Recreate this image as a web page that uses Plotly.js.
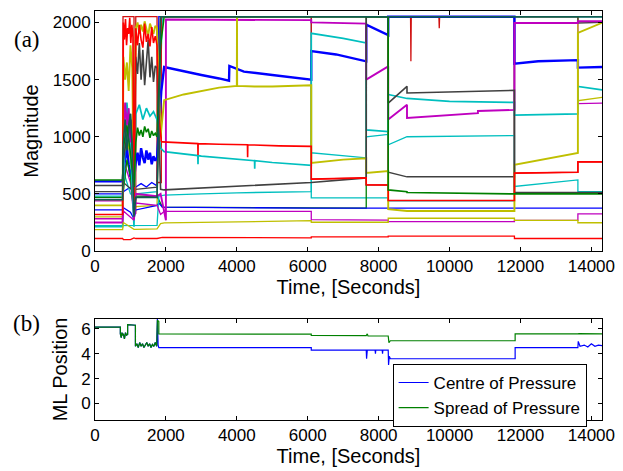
<!DOCTYPE html>
<html><head><meta charset="utf-8">
<script src="https://cdn.plot.ly/plotly-3.0.1.min.js"></script>
<style>html,body{margin:0;padding:0;background:#fff}#chart{width:623px;height:471px}</style>
</head><body><div id="chart"></div>
<script>
// ---- Panel (a): sensor magnitudes, [time, value] breakpoints ----
const tB1=[0,780,800,850,900,950,1000,1050,1100,1150,1200,1250,1300,1350,1400,1450,1500,1550,1600,1650,1700,1750,1800,1870,1950,2500,3000,3500,3780,3790,4200,5000,5500,6100,6100,6800,7650,7650,8270,8270,11830,11830,12500,13620,13620,14300];
const vB1=[610,610,700,820,900,760,650,720,610,780,860,750,900,820,770,880,800,860,760,830,790,820,1100,1400,1610,1570,1540,1510,1490,1620,1570,1540,1520,1500,1750,1720,1660,1980,1890,2050,2050,1640,1660,1670,1605,1610];
const tB2=[0,780,800,1000,1100,1150,1750,1800,1900,6100,14300];
const vB2=[360,360,380,340,280,360,400,420,385,375,375];
const tB3=[0,780,800,1000,1100,1150,1300,1450,1600,1750,1800,14300];
const vB3=[500,500,520,560,500,560,590,560,600,570,2050,2050];

const tG1=[0,780,800,900,1000,1100,1150,1200,1250,1300,1350,1400,1450,1500,1550,1600,1650,1700,1750,1850,1950,8270,8270,8800,8800,11830,11830,14300];
const vG1=[622,622,900,1100,850,560,950,1080,1010,1060,1000,1090,1040,1070,990,1050,1010,1030,1000,1800,2050,2050,535,520,512,500,500,500];
const tG2=[0,780,800,900,1000,1100,1150,1750,1900,6100,7650,7650,14300];
const vG2=[470,470,520,800,650,300,480,480,385,375,375,2050,2050];
const tG3=[0,780,800,850,900,950,1000,1050,1100,1150,1750,1850,14300];
const vG3=[450,450,950,1150,880,1050,1200,900,300,470,470,2050,2050];

const tR1=[0,780,790,1100,1100,1150,1150,1750,1750,1870,1870,6100,6100,7650,7650,8270,8270,8900,8910,8920,9700,9710,9720,11830,11830,13620,13620,14300];
const vR1=[450,450,2050,2050,320,330,2050,2050,600,600,2050,2050,630,640,578,578,2050,2050,1660,2050,2050,1950,2050,2050,682,690,780,780];
const tR2=[0,780,800,1000,1100,1150,1750,1900,6100,6100,8270,8270,11830,11830,14300];
const vR2=[110,110,100,100,115,110,110,120,116,125,125,130,130,110,110];
const tR3=[0,780,800,830,860,890,920,950,980,1010,1040,1070,1100,1150,1200,1250,1300,1350,1400,1450,1500,1550,1600,1650,1700,1750,1800,1870,1900,2600,2900,2905,2910,3500,4300,4305,4310,5200,6100,6100,7650,7650,8270,8270,11830,11830,13620,13620,14300];
const vR3=[320,320,2000,1850,2030,1800,1950,1900,2040,1820,1980,1870,320,1950,1800,1980,1850,1780,1990,1830,1900,1790,1960,1820,1880,1800,1200,960,955,945,940,840,940,935,930,820,930,920,916,630,640,580,578,443,443,682,690,780,780];

const tC1=[0,780,800,900,1000,1100,1150,1250,1350,1450,1550,1650,1750,1850,1950,2900,2905,2910,3000,4000,4500,4505,4510,5000,6100,6100,7000,7650,7650,8270,8270,8800,10000,11830,11830,13620,13620,14300];
const vC1=[214,214,600,1300,900,214,1200,1280,1150,1250,1180,1220,1150,900,870,835,760,835,830,800,790,720,790,775,750,1905,1860,1820,1060,1045,1370,1335,1310,1300,1190,1200,1440,1410];
const tC2=[0,780,1100,1150,1750,1800,1950,3000,4000,6100,6100,7650,7650,8270,8270,8800,11830,11830,13620,13620,14300];
const vC2=[223,223,223,223,225,480,490,500,510,520,860,815,1000,1020,930,1000,1010,565,622,520,520];
const tC3=[0,780,800,1000,1100,1150,1750,1900,6100,6100,8270,8270,11830,11830,14300];
const vC3=[480,480,700,500,480,500,520,2050,2050,465,465,440,440,2050,2050];

const tM1=[0,780,800,850,900,950,1000,1050,1100,1150,1750,1850,2000,2000,6100,6100,7650,7650,8270,8270,8800,8800,10800,10800,11830,11830,13620,13620,14300];
const vM1=[250,250,1000,1300,1100,1250,950,1150,280,500,480,500,270,2025,2020,2000,1990,1500,1616,1150,1280,1165,1207,1225,1235,1995,1995,2010,2010];
const tM2=[0,780,800,1100,1150,1750,1850,1950,6100,6100,8270,8270,11830,11830,13620,13620,14300];
const vM2=[283,283,350,270,420,400,320,347,347,275,270,258,258,269,269,325,325];
const tM3=[0,780,800,1000,1100,1150,1750,1850,13620,13620,14300];
const vM3=[440,440,800,600,290,470,480,2050,2050,1290,1295];

const tY1=[0,780,800,850,900,950,1000,1050,1100,1150,1200,1250,1300,1350,1400,1450,1500,1550,1600,1650,1700,1750,1850,1950,2500,3000,3500,4000,4005,4010,4500,5000,6100,6100,7000,7650,7650,8270,8270,8800,11830,11830,13620,13620,14300];
const vY1=[400,400,1700,1500,1650,1400,1800,1600,400,1950,2000,1900,1980,1920,2010,1950,1880,1990,1940,1900,1970,1950,1000,1320,1370,1400,1430,1445,2050,1445,1440,1440,1450,770,800,812,684,700,366,351,351,754,859,1909,1997];
const tY2=[0,780,800,1100,1150,1750,1850,1950,6100,6100,8270,8270,11830,11830,13620,13620,14300];
const vY2=[188,188,250,190,190,195,240,246,266,252,252,287,287,269,269,248,248];
const tY3=[0,780,800,1000,1100,1150,1750,1850,13620,13620,14300];
const vY3=[300,300,1200,800,300,390,400,2050,2050,1315,1345];

const tK1=[0,780,800,1000,1100,1150,1200,1250,1300,1350,1400,1450,1500,1550,1600,1650,1700,1750,1850,1950,4000,6100,6100,7650,7650,8270,8270,8800,8800,11830,11830,14300];
const vK1=[573,573,800,1200,560,1700,1550,1820,1500,1760,1450,1650,1850,1520,1700,1480,1620,1600,540,535,565,594,600,640,2050,2050,1295,1441,1383,1406,512,512];
const tK2=[0,780,800,1100,1150,1750,1850,8270,8270,8800,11830,11830,13620,13620,14300];
const vK2=[520,520,600,520,540,560,2050,2050,690,650,650,2050,2050,1995,2000];

// ---- Panel (b): ML position ----
const tCOP=[0,715,715,740,760,780,800,830,860,890,920,920,1140,1140,1180,1220,1260,1300,1340,1380,1420,1460,1500,1540,1580,1620,1660,1700,1740,1760,1780,1800,6100,6100,7650,7660,7680,7900,7910,7920,8100,8110,8120,8270,8280,8300,8330,11850,11850,13620,13630,13680,13800,13900,14000,14100,14200,14300];
const vCOP=[6.15,6.15,5.6,5.3,5.7,5.5,5.6,5.2,5.7,5.5,5.55,6.35,6.3,4.6,4.8,4.5,4.9,4.6,4.8,4.5,4.7,4.9,4.6,4.8,4.5,4.75,4.6,4.9,4.6,6.8,4.7,4.5,4.5,4.3,4.3,3.6,4.3,4.3,4.0,4.3,4.3,4.0,4.3,4.3,3.1,3.8,3.6,3.6,4.5,4.5,5.0,4.6,4.7,4.55,4.8,4.6,4.7,4.65];
const tSOP=[0,715,715,740,760,780,800,830,860,890,920,920,1140,1140,1180,1220,1260,1300,1340,1380,1420,1460,1500,1540,1580,1620,1660,1700,1740,1760,1800,1800,6100,6100,7650,7680,7700,8270,8290,8330,11850,11850,13620,13650,14300];
const vSOP=[6.15,6.15,5.6,5.3,5.7,5.5,5.6,5.2,5.7,5.5,5.55,6.35,6.3,4.6,4.8,4.5,4.9,4.6,4.8,4.5,4.7,4.9,4.6,4.8,4.5,4.75,4.6,4.9,4.6,6.7,6.6,5.6,5.58,5.48,5.46,5.6,5.43,5.43,4.9,5.05,5.05,5.6,5.6,5.62,5.6];

const legendNames=['Centre of Pressure','Spread of Pressure'];
const xTicks=[0,2000,4000,6000,8000,10000,12000,14000];
const xTickText=['0','2000','4000','6000','8000','10000','12000','14000'];

const BLUE='#0000FF',GREEN='#008000',RED='#FF0000',CYAN='#00BFBF',MAG='#BF00BF',OLIVE='#BFBF00',GRAY='#404040',TEAL='#0F5C50';
function ln(t,v,c,w){return {x:t,y:v,type:'scatter',mode:'lines',line:{color:c,width:w||1.3},showlegend:false,xaxis:'x',yaxis:'y',hoverinfo:'skip'};}
const traces=[
 ln(tB3,vB3,BLUE),ln(tC3,vC3,CYAN),ln(tM3,vM3,MAG),ln(tY3,vY3,OLIVE),ln(tK2,vK2,GRAY),ln(tR1,vR1,'#D01010'),
 ln(tB1,vB1,BLUE,2.4),ln(tG2,vG2,GREEN),ln(tB2,vB2,BLUE),
 ln(tC1,vC1,CYAN,1.7),ln(tC2,vC2,CYAN),ln(tM1,vM1,MAG,1.9),ln(tM2,vM2,MAG),ln(tY1,vY1,OLIVE,1.9),ln(tY2,vY2,OLIVE),
 ln(tK1,vK1,GRAY,1.6),ln(tR3,vR3,RED,1.6),ln(tR2,vR2,RED),ln(tG1,vG1,GREEN,1.6),ln(tG3,vG3,TEAL,1.6),
 {x:tCOP,y:vCOP,type:'scatter',mode:'lines',name:legendNames[0],line:{color:BLUE,width:1.2},xaxis:'x2',yaxis:'y2'},
 {x:tSOP,y:vSOP,type:'scatter',mode:'lines',name:legendNames[1],line:{color:GREEN,width:1.2},xaxis:'x2',yaxis:'y2'}
];

const FAM='Liberation Sans, Arial, sans-serif';
const TF={family:FAM,size:17,color:'#000'};
const AF={family:FAM,size:20,color:'#000'};
function ax(o){return Object.assign({showline:true,linecolor:'#000',linewidth:1,mirror:'ticks',ticks:'inside',ticklen:4,tickcolor:'#000',showgrid:false,zeroline:false,tickfont:TF,automargin:false},o);}
const layout={
 width:623,height:471,paper_bgcolor:'#fff',plot_bgcolor:'#fff',
 margin:{l:95,r:21,t:11,b:51},
 xaxis:ax({domain:[0,1],range:[0,14300],tickvals:xTicks,ticktext:xTickText,anchor:'y',title:{text:'Time, [Seconds]',font:AF,standoff:4}}),
 yaxis:ax({domain:[0.413,1],range:[0,2100],tickvals:[0,500,1000,1500,2000],anchor:'x',title:{text:'Magnitude',font:AF,standoff:8}}),
 xaxis2:ax({domain:[0,1],range:[0,14300],tickvals:xTicks,ticktext:xTickText,anchor:'y2',title:{text:'Time, [Seconds]',font:AF,standoff:4}}),
 yaxis2:ax({domain:[0,0.247],range:[-1.33,6.8],tickvals:[0,2,4,6],anchor:'x2',title:{text:'ML Position',font:AF,standoff:8}}),
 legend:{x:0.587,y:0.137,xanchor:'left',yanchor:'top',bgcolor:'#fff',bordercolor:'#000',borderwidth:1,font:TF,tracegroupgap:0},
 annotations:[
  {text:'(a)',xref:'paper',yref:'paper',x:-0.135,y:0.93,xanchor:'center',yanchor:'middle',showarrow:false,font:{family:'Liberation Serif, Times New Roman, serif',size:23,color:'#000'}},
  {text:'(b)',xref:'paper',yref:'paper',x:-0.135,y:0.235,xanchor:'center',yanchor:'middle',showarrow:false,font:{family:'Liberation Serif, Times New Roman, serif',size:23,color:'#000'}}
 ]
};
Plotly.newPlot('chart',traces,layout,{staticPlot:true,displayModeBar:false});
</script></body></html>
